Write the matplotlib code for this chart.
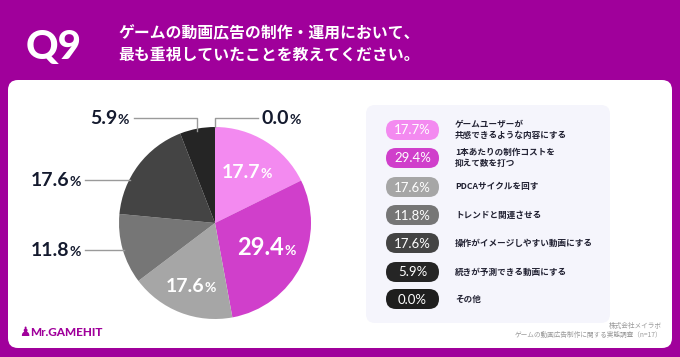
import numpy as np
import matplotlib
matplotlib.use("Agg")
import matplotlib.pyplot as plt
from matplotlib.patches import FancyBboxPatch

plt.rcParams['font.family'] = ['Noto Sans CJK JP', 'DejaVu Sans']

# data
labels = ["ゲームユーザーが\n共感できるような内容にする",
          "1本あたりの制作コストを\n抑えて数を打つ",
          "PDCAサイクルを回す",
          "トレンドと関連させる",
          "操作がイメージしやすい動画にする",
          "続きが予測できる動画にする",
          "その他"]
values = [17.7, 29.4, 17.6, 11.8, 17.6, 5.9, 0.0]
colors = ["#F38AF0", "#D03FCB", "#A6A6A6", "#767676", "#444444", "#252525", "#1E1E1E"]
title = "ゲームの動画広告の制作・運用において、\n最も重視していたことを教えてください。"
source = ["株式会社メイラボ", "ゲームの動画広告制作に関する実態調査（n=17）"]

W, H = 680, 357
fig = plt.figure(figsize=(W / 100, H / 100), dpi=100)
fig.patch.set_facecolor("#A0009B")

bg = fig.add_axes([0, 0, 1, 1])
bg.set_xlim(0, W)
bg.set_ylim(H, 0)
bg.axis("off")

# white card
bg.add_patch(FancyBboxPatch((8, 80), 664, 268, boxstyle="round,pad=0,rounding_size=10",
                            facecolor="white", edgecolor="none"))
# legend panel
bg.add_patch(FancyBboxPatch((366, 105), 244, 218, boxstyle="round,pad=0,rounding_size=9",
                            facecolor="#F5F5FC", edgecolor="none"))

bg.text(26, 47, "Q9", color="white", fontsize=29, fontweight="black",
        family="Lato", va="center", ha="left")
bg.text(118, 44, title, color="white", fontsize=11.4, fontweight="bold",
        va="center", ha="left", linespacing=1.4)

bg.text(19, 332, "♟", color="#A0009B", fontsize=9, va="center", ha="left", family="DejaVu Sans")
bg.text(30, 332, "Mr.GAMEHIT", color="#A0009B", fontsize=8.5, fontweight="black",
        va="center", ha="left", family="Lato")
bg.text(662, 326, source[0], color="#999999", fontsize=4.8, va="center", ha="right")
bg.text(662, 335, source[1], color="#999999", fontsize=4.8, va="center", ha="right")

# pie
cx, cy, r = 215, 223, 96
pie_ax = fig.add_axes([(cx - r) / W, (H - cy - r) / H, 2 * r / W, 2 * r / H])
pie_ax.pie(values, colors=colors, startangle=90, counterclock=False, radius=1,
           wedgeprops=dict(linewidth=0))
pie_ax.set_xlim(-1, 1)
pie_ax.set_ylim(-1, 1)
pie_ax.axis("off")

# overlay for labels on top of the pie
top = fig.add_axes([0, 0, 1, 1])
top.set_xlim(0, W)
top.set_ylim(H, 0)
top.axis("off")

renderer = fig.canvas.get_renderer()


def place(ax, x, y, num, size, color, small, align="center"):
    t = ax.text(0, 0, num, fontsize=size, fontweight="bold", color=color,
                family="Lato", ha="left", va="baseline")
    p = ax.text(0, 0, "%", fontsize=small, fontweight="bold", color=color,
                family="Lato", ha="left", va="baseline")
    wn = t.get_window_extent(renderer).width
    total = wn + p.get_window_extent(renderer).width
    if align == "center":
        x0 = x - total / 2
    elif align == "right":
        x0 = x - total
    else:
        x0 = x
    t.set_position((x0, y))
    p.set_position((x0 + wn, y))


# inside labels
cum = np.cumsum([0] + values[:-1])
inner = {0: (0.63, 14), 1: (0.6, 17), 2: (0.7, 14)}
for i, (rad, fs) in inner.items():
    mid = (cum[i] + values[i] / 2) / 100 * 2 * np.pi
    x = cx + rad * r * np.sin(mid)
    y = cy - rad * r * np.cos(mid) + 6
    place(top, x, y, f"{values[i]:.1f}", fs, "white", 10)

# outside labels with leader lines
line_col = "#9A9A9A"
dark = "#141A2E"
# 0.0% at top
mid6 = (cum[6] + values[6] / 2) / 100 * 2 * np.pi
x6 = cx + r * np.sin(mid6)
top.plot([x6, x6, 258], [cy - r, 118, 118], color=line_col, lw=1)
place(top, 262, 124, f"{values[6]:.1f}", 14, dark, 10, align="left")
# 5.9%
mid5 = (cum[5] + values[5] / 2) / 100 * 2 * np.pi
x5 = cx + r * np.sin(mid5)
y5 = cy - r * np.cos(mid5)
top.plot([x5, x5, 134], [y5 + 2, 118, 118], color=line_col, lw=1)
place(top, 129, 124, f"{values[5]:.1f}", 14, dark, 10, align="right")
# 17.6% and 11.8% on the left
for i, ly in [(4, 180), (3, 250)]:
    xe = cx - np.sqrt(r ** 2 - (ly - cy) ** 2)
    top.plot([85, xe + 1], [ly, ly], color=line_col, lw=1)
    place(top, 81, ly + 6, f"{values[i]:.1f}", 14, dark, 10, align="right")

# legend pills
ys = [130, 158, 187, 215, 243, 272, 299]
for i, yy in enumerate(ys):
    top.add_patch(FancyBboxPatch((386, yy - 10), 53, 20, boxstyle="round,pad=0,rounding_size=10",
                                 facecolor=colors[i], edgecolor="none"))
    top.text(412.5, yy + 0.5, f"{values[i]:.1f}%", color="white", fontsize=9.5,
             va="center", ha="center", family="Lato")
    top.text(455, yy, labels[i], color="#222233", fontsize=6.2, fontweight="bold",
             va="center", ha="left", linespacing=1.35)

fig.savefig("out.png", dpi=100, facecolor=fig.get_facecolor())
